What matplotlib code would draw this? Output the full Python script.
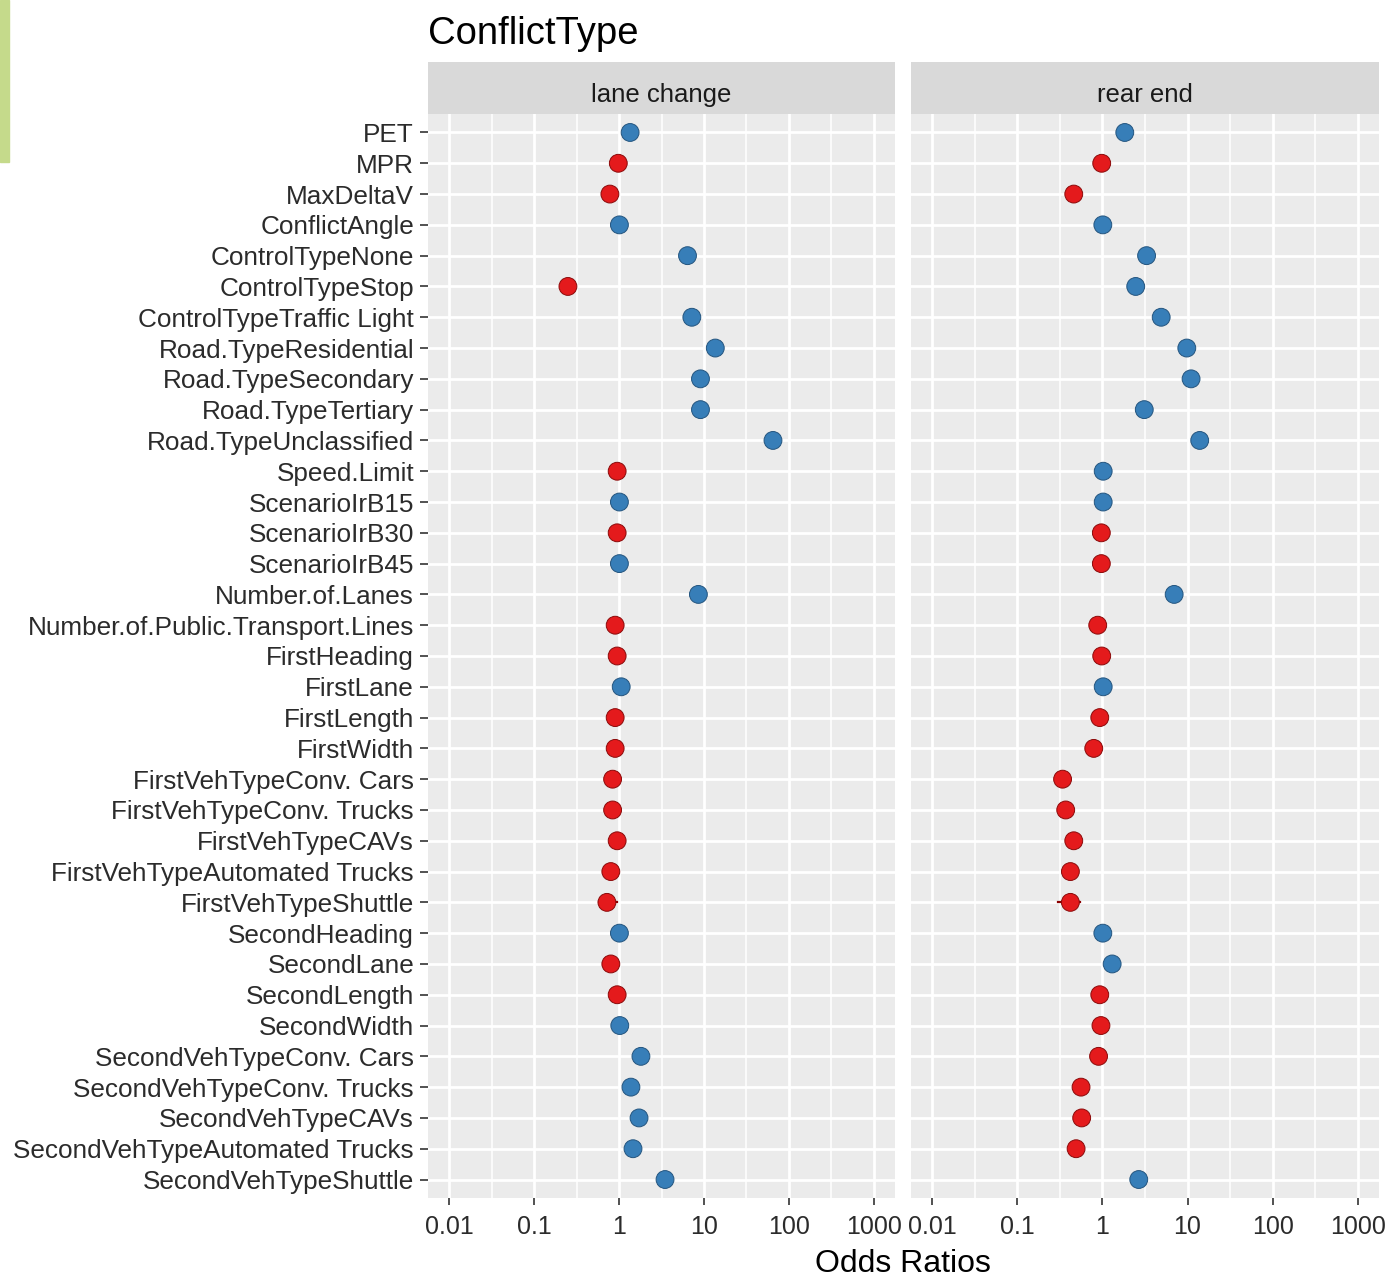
import matplotlib
matplotlib.use("Agg")
import numpy as np
from matplotlib import pyplot as plt
from matplotlib.patches import Rectangle

plt.rcParams['font.family'] = ['Liberation Sans', 'DejaVu Sans']

terms = [
    "PET", "MPR", "MaxDeltaV", "ConflictAngle", "ControlTypeNone",
    "ControlTypeStop", "ControlTypeTraffic Light", "Road.TypeResidential",
    "Road.TypeSecondary", "Road.TypeTertiary", "Road.TypeUnclassified",
    "Speed.Limit", "ScenarioIrB15", "ScenarioIrB30", "ScenarioIrB45",
    "Number.of.Lanes", "Number.of.Public.Transport.Lines", "FirstHeading",
    "FirstLane", "FirstLength", "FirstWidth", "FirstVehTypeConv. Cars",
    "FirstVehTypeConv. Trucks", "FirstVehTypeCAVs",
    "FirstVehTypeAutomated Trucks", "FirstVehTypeShuttle", "SecondHeading",
    "SecondLane", "SecondLength", "SecondWidth", "SecondVehTypeConv. Cars",
    "SecondVehTypeConv. Trucks", "SecondVehTypeCAVs",
    "SecondVehTypeAutomated Trucks", "SecondVehTypeShuttle",
]

lane_change = [
    1.35, 0.98, 0.78, 1.01, 6.4,
    0.25, 7.2, 13.6,
    9.1, 9.1, 65.0,
    0.95, 1.01, 0.95, 1.01,
    8.6, 0.90, 0.95,
    1.06, 0.90, 0.90, 0.84,
    0.84, 0.95,
    0.80, 0.72, 1.01,
    0.80, 0.95, 1.02, 1.81,
    1.38, 1.72,
    1.46, 3.48,
]

rear_end = [
    1.83, 0.98, 0.46, 1.01, 3.3,
    2.46, 4.9, 9.8,
    11.0, 3.1, 13.9,
    1.02, 1.02, 0.97, 0.97,
    6.96, 0.88, 0.98,
    1.02, 0.93, 0.79, 0.34,
    0.37, 0.46,
    0.42, 0.42, 1.01,
    1.30, 0.93, 0.96, 0.90,
    0.56, 0.57,
    0.49, 2.67,
]

# confidence intervals wide enough to show outside the dots
lane_change_ci = {"FirstVehTypeShuttle": (0.58, 0.95)}
rear_end_ci = {"FirstVehTypeShuttle": (0.30, 0.54)}

panels = ["lane change", "rear end"]
x_breaks = [0.01, 0.1, 1, 10, 100, 1000]
x_labels = ["0.01", "0.1", "1", "10", "100", "1000"]

RED = "#E41A1C"
BLUE = "#377EB8"
W, H = 1388, 1279


def fx(px):
    return px / W


def fy(py):
    return 1 - py / H


def main():
    fig = plt.figure(figsize=(W / 100, H / 100), dpi=100)
    fig.patches.append(Rectangle((0, fy(162)), fx(9), 162 / H,
                                 transform=fig.transFigure,
                                 color="#C5DA8B", zorder=0))

    n = len(terms)
    ypos = np.arange(n)
    minor = [10 ** (k + 0.5) for k in range(-2, 3)]
    panel_x = [(428, 895), (911, 1379)]
    top, bottom, strip_top = 114, 1198, 62

    for i, (name, values, cis) in enumerate(zip(panels, [lane_change, rear_end],
                                                [lane_change_ci, rear_end_ci])):
        x0, x1 = panel_x[i]
        ax = fig.add_axes([fx(x0), fy(bottom), (x1 - x0) / W, (bottom - top) / H])
        ax.set_facecolor("#EBEBEB")
        ax.set_xscale("log")
        ax.set_xlim(10 ** -2.25, 10 ** 3.25)
        ax.set_ylim(n - 0.4, -0.6)
        for m in minor:
            ax.axvline(m, color="white", lw=1.1, zorder=1)
        for b in x_breaks:
            ax.axvline(b, color="white", lw=2.0, zorder=1)
        for y in ypos:
            ax.axhline(y, color="white", lw=2.0, zorder=1)
        for s in ax.spines.values():
            s.set_visible(False)

        vals = np.array(values)
        colors = [BLUE if v > 1 else RED for v in vals]
        edges = ["#24557F" if v > 1 else "#8B0A0A" for v in vals]
        for term, (lo, hi) in cis.items():
            j = terms.index(term)
            ax.plot([lo, hi], [j, j], color="#8B0000", lw=1.6, zorder=2)
        ax.scatter(vals, ypos, s=165, c=colors, edgecolors=edges,
                   linewidths=0.7, zorder=3)

        ax.set_xticks(x_breaks)
        ax.set_xticklabels(x_labels)
        ax.xaxis.set_minor_locator(plt.NullLocator())
        ax.tick_params(axis="x", length=5, width=1.2, color="#333333",
                       labelsize=18, labelcolor="#2B2B2B", pad=7)
        ax.set_yticks(ypos)
        if i == 0:
            ax.set_yticklabels(terms, va="center_baseline")
            ax.tick_params(axis="y", length=6, width=1.2, color="#333333",
                           labelsize=18.8, labelcolor="#2B2B2B", pad=4)
        else:
            ax.tick_params(axis="y", length=0, labelleft=False)

        sax = fig.add_axes([fx(x0), fy(top), (x1 - x0) / W, (top - strip_top) / H])
        sax.set_facecolor("#D9D9D9")
        sax.set_xticks([])
        sax.set_yticks([])
        for s in sax.spines.values():
            s.set_visible(False)
        sax.text(0.5, 0.42, name, ha="center", va="center_baseline",
                 fontsize=18.5, color="#1A1A1A", transform=sax.transAxes)

    fig.text(fx(428), fy(30), "ConflictType", ha="left", va="center_baseline",
             fontsize=27.5, color="black")
    fig.text(fx(903), fy(1261), "Odds Ratios", ha="center", va="center_baseline",
             fontsize=23, color="black")

    fig.savefig("out.png", dpi=100)
    plt.close(fig)


if __name__ == "__main__":
    main()
